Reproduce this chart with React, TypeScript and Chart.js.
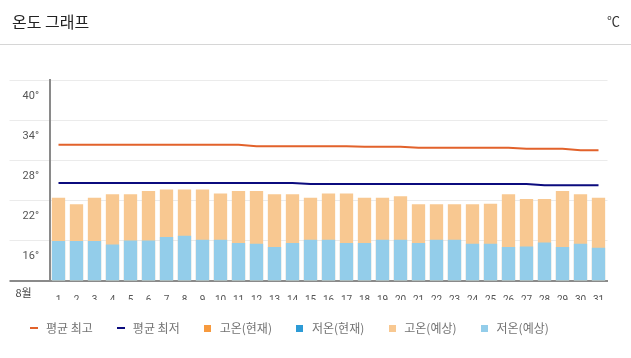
import React, { useEffect, useRef } from 'react';
import { Chart, registerables } from 'chart.js';

Chart.register(...registerables);

// ---- data ----
const DAYS = ['1', '2', '3', '4', '5', '6', '7', '8', '9', '10', '11', '12', '13', '14', '15', '16',
  '17', '18', '19', '20', '21', '22', '23', '24', '25', '26', '27', '28', '29', '30', '31'];
const MONTH_LABEL = '8월';

const AVG_HIGH = [30.3, 30.3, 30.3, 30.3, 30.3, 30.3, 30.3, 30.3, 30.3, 30.3, 30.3,
  30.1, 30.1, 30.1, 30.1, 30.1, 30.1, 30.0, 30.0, 30.0,
  29.85, 29.85, 29.85, 29.85, 29.85, 29.85, 29.7, 29.7, 29.7, 29.5, 29.5];
const AVG_LOW = [24.6, 24.6, 24.6, 24.6, 24.6, 24.6, 24.6, 24.6, 24.6, 24.6, 24.6, 24.6, 24.6, 24.6,
  24.45, 24.45, 24.45, 24.45, 24.45, 24.45, 24.45, 24.45, 24.45, 24.45, 24.45, 24.45, 24.45,
  24.25, 24.25, 24.25, 24.25];
const CUR_HIGH: (number | null)[] = [];
const CUR_LOW: (number | null)[] = [];
const EXP_HIGH = [22.4, 21.4, 22.4, 22.9, 22.9, 23.4, 23.6, 23.6, 23.6, 23.0, 23.4, 23.4, 22.9, 22.9,
  22.4, 23.0, 23.0, 22.4, 22.4, 22.6, 21.4, 21.4, 21.4, 21.4, 21.5, 22.9, 22.2, 22.2, 23.4, 22.9, 22.4];
const EXP_LOW = [15.9, 15.9, 15.9, 15.4, 16.0, 16.0, 16.5, 16.7, 16.1, 16.1, 15.6, 15.5, 15.0, 15.6,
  16.1, 16.1, 15.6, 15.6, 16.1, 16.1, 15.6, 16.1, 16.1, 15.5, 15.5, 15.0, 15.1, 15.7, 15.0, 15.5, 14.9];

const Y_MIN = 10;
const Y_MAX = 40;
const Y_STEP = 6;

const SERIES_NAMES = ['평균 최고', '평균 최저', '고온(현재)', '저온(현재)', '고온(예상)', '저온(예상)'];

// ---- styles ----
const C_AVG_HIGH = '#e2622b';
const C_AVG_LOW = '#0b0b7e';
const C_CUR_HIGH = '#f79a3e';
const C_CUR_LOW = '#2d9bd6';
const C_EXP_HIGH = '#f8c891';
const C_EXP_LOW = '#93cdea';
const AXIS_DARK = '#8a8a8a';
const GRID_LIGHT = '#ebebeb';
const CJK = '"Noto Sans CJK KR", "Noto Sans", sans-serif';

function markerCanvas(color: string, w: number, h: number) {
  const c = document.createElement('canvas');
  c.width = w;
  c.height = h;
  const g = c.getContext('2d')!;
  g.fillStyle = color;
  g.fillRect(0, 0, w, h);
  return c;
}

const extrasPlugin = {
  id: 'extras',
  afterDraw(chart: any) {
    const { ctx, chartArea } = chart;
    const xs = chart.scales.x;
    ctx.save();
    ctx.font = `11px ${CJK}`;
    ctx.fillStyle = '#444';
    ctx.textAlign = 'center';
    ctx.textBaseline = 'middle';
    ctx.fillText(MONTH_LABEL, chartArea.left - 26, xs.top + 12.5);
    ctx.restore();
  },
};

export default function App() {
  const ref = useRef<HTMLCanvasElement | null>(null);

  useEffect(() => {
    const canvas = ref.current;
    if (!canvas) return;
    const colors = [C_AVG_HIGH, C_AVG_LOW, C_CUR_HIGH, C_CUR_LOW, C_EXP_HIGH, C_EXP_LOW];
    const markers = colors.map((c, i) => (i < 2 ? markerCanvas(c, 8, 2) : markerCanvas(c, 7, 7)));
    const isBase = (c: any) => c.tick && c.tick.value === Y_MIN;

    const chart = new Chart(canvas, {
      type: 'bar',
      data: {
        labels: DAYS,
        datasets: [
          {
            type: 'line', label: SERIES_NAMES[0], data: AVG_HIGH, borderColor: C_AVG_HIGH,
            backgroundColor: C_AVG_HIGH, borderWidth: 2, pointRadius: 0, tension: 0, order: 0,
          } as any,
          {
            type: 'line', label: SERIES_NAMES[1], data: AVG_LOW, borderColor: C_AVG_LOW,
            backgroundColor: C_AVG_LOW, borderWidth: 2, pointRadius: 0, tension: 0, order: 0,
          } as any,
          { type: 'bar', label: SERIES_NAMES[2], data: CUR_HIGH, backgroundColor: C_CUR_HIGH, order: 3 },
          { type: 'bar', label: SERIES_NAMES[3], data: CUR_LOW, backgroundColor: C_CUR_LOW, order: 3 },
          { type: 'bar', label: SERIES_NAMES[4], data: EXP_HIGH, backgroundColor: C_EXP_HIGH, order: 2 },
          { type: 'bar', label: SERIES_NAMES[5], data: EXP_LOW, backgroundColor: C_EXP_LOW, order: 1 },
        ],
      },
      options: {
        animation: false,
        responsive: false,
        maintainAspectRatio: false,
        datasets: { bar: { barPercentage: 0.74, categoryPercentage: 1 } },
        layout: { padding: { left: 6, right: 23.5, top: 80, bottom: 14 } },
        plugins: {
          tooltip: { enabled: false },
          legend: {
            position: 'bottom',
            align: 'start',
            labels: {
              usePointStyle: true,
              pointStyleWidth: 12,
              boxHeight: 7,
              padding: 22,
              color: '#737373',
              font: { family: CJK, size: 12 },
              generateLabels: (ch: any) =>
                SERIES_NAMES.map((name, i) => ({
                  text: name,
                  datasetIndex: i,
                  pointStyle: markers[i],
                  fillStyle: colors[i],
                  strokeStyle: colors[i],
                  lineWidth: 0,
                  hidden: !ch.isDatasetVisible(i),
                  fontColor: '#737373',
                })),
            },
          },
        },
        scales: {
          x: {
            stacked: true,
            z: 1,
            grid: { display: false },
            border: { display: true, color: AXIS_DARK, width: 2 },
            ticks: {
              autoSkip: false,
              maxRotation: 0,
              padding: 6,
              color: '#555',
              font: { family: '"Liberation Sans Narrow", Roboto, sans-serif', size: 10 },
            },
            afterFit: (s: any) => { s.height = 19.5; },
          },
          y: {
            stacked: false,
            min: Y_MIN,
            max: Y_MAX,
            grid: {
              drawTicks: true,
              tickLength: 40,
              color: (c: any) => (isBase(c) ? AXIS_DARK : GRID_LIGHT),
              tickColor: (c: any) => (isBase(c) ? AXIS_DARK : GRID_LIGHT),
              lineWidth: (c: any) => (isBase(c) ? 2 : 1),
              tickWidth: (c: any) => (isBase(c) ? 2 : 1),
            },
            border: { display: true, color: AXIS_DARK, width: 2 },
            ticks: {
              stepSize: Y_STEP,
              labelOffset: 16,
              padding: -29.5,
              color: '#555',
              font: { family: 'Roboto, sans-serif', size: 11 },
              callback: (v: any) => (Number(v) === Y_MIN ? '' : `${v}°`),
            },
            afterFit: (s: any) => { s.width = 43.5; },
          },
        },
      } as any,
      plugins: [extrasPlugin],
    });
    return () => chart.destroy();
  }, []);

  return (
    <div style={{ position: 'fixed', left: 0, top: 0, width: 631, height: 358, background: '#fff' }}>
      <canvas ref={ref} width={631} height={358} style={{ display: 'block', width: 631, height: 358 }} />
      <div
        style={{
          position: 'absolute', left: 0, top: 0, width: 631, height: 44,
          borderBottom: '1px solid #d6d6d6', pointerEvents: 'none',
        }}
      >
        <div style={{ position: 'absolute', left: 12, top: 10, fontFamily: CJK, fontSize: 16, lineHeight: '22px', color: '#222' }}>
          온도 그래프
        </div>
        <div style={{ position: 'absolute', right: 11, top: 11, fontFamily: CJK, fontSize: 13, lineHeight: '20px', color: '#333' }}>
          ℃
        </div>
      </div>
    </div>
  );
}
